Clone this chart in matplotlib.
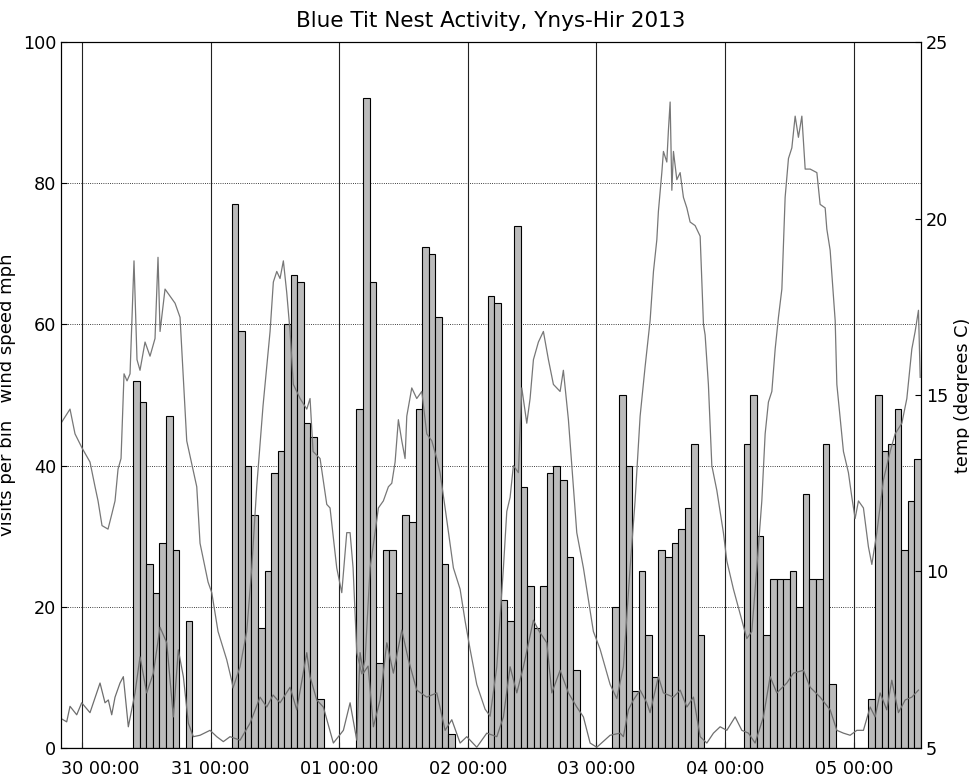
import matplotlib
matplotlib.use("Agg")
from matplotlib import pyplot as plt
import matplotlib.dates as mdates
import matplotlib.transforms as mtransforms
from datetime import datetime, timedelta

# hours relative to 30 May 2013 00:00
BASE = datetime(2013, 5, 30)
BIN_START = -3.92
BIN_HOURS = 1.225

# visits per bin (131 bins)
visits = [0] * 11 + [52, 49, 26, 22, 29, 47, 28, 0, 18] + [0] * 6 + \
    [77, 59, 40, 33, 17, 25, 39, 42, 60, 67, 66, 46, 44, 7] + [0] * 5 + \
    [48, 92, 66, 12, 28, 28, 22, 33, 32, 48, 71, 70, 61, 26, 2] + [0] * 5 + \
    [64, 63, 21, 18, 74, 37, 23, 17, 23, 39, 40, 38, 27, 11] + [0] * 5 + \
    [20, 50, 40, 8, 25, 16, 10, 28, 27, 29, 31, 34, 43, 16] + [0] * 6 + \
    [43, 50, 30, 16, 24, 24, 24, 25, 20, 36, 24, 24, 43, 9] + [0] * 5 + \
    [7, 50, 42, 43, 48, 28, 35, 41]

temp_hours = [-3.92, -2.24, -1.31, 0, 1.49, 2.43, 2.99, 3.73, 4.85, 5.6, 6.16, 6.72, 7.28,
              7.84, 8.4, 8.96, 9.7, 10.26, 10.82, 11.76, 12.69, 13.62, 14.18, 14.56, 15.49,
              16.42, 17.36, 18.29, 19.54, 21.41, 22.02, 23.52, 24.21, 25.38, 27.0, 27.94,
              28.18, 29.49, 30.74, 31.67, 32.6, 33.22, 33.78, 35.09, 35.7, 36.34, 36.95,
              37.57, 38.2, 38.82, 39.43, 40.69, 41.94, 42.55, 43.11, 44.42, 45.67, 46.28,
              47.53, 48.47, 49.4, 50.02, 50.58, 51.27, 52.2, 52.82, 53.75, 54.68, 55.3,
              56.23, 57.17, 57.8, 58.42, 59.03, 59.67, 60.28, 60.6, 61.53, 62.46, 63.4,
              64.33, 65.27, 66.2, 66.81, 67.75, 69.3, 70.55, 71.48, 72.41, 73.66, 75.21,
              76.15, 77.4, 78.63, 79.26, 79.88, 80.49, 81.43, 82.06, 82.99, 83.61, 84.23,
              85.16, 86.09, 87.03, 87.96, 89.21, 89.82, 90.76, 92.32, 93.56, 95.42, 96.67,
              98.54, 99.79, 101.02, 102.27, 103.2, 104.14, 105.07, 106.0, 106.63, 107.26,
              107.55, 108.19, 108.49, 109.12, 109.42, 109.74, 110.06, 110.36, 110.99,
              111.61, 112.22, 112.86, 113.47, 114.4, 115.34, 115.96, 116.27, 116.88,
              117.52, 118.45, 119.68, 120.32, 121.55, 122.8, 124.05, 124.98, 125.92,
              126.85, 127.47, 128.08, 128.72, 129.34, 129.95, 130.59, 131.2, 131.82,
              132.45, 133.07, 133.68, 134.32, 134.94, 135.87, 137.12, 137.73, 138.67,
              138.98, 139.6, 140.54, 140.85, 142.08, 143.01, 143.65, 144.26, 144.88,
              145.81, 146.74, 147.38, 148.31, 149.55, 150.8, 151.73, 152.98, 153.91,
              154.84, 155.46, 156.08, 156.4]
temp_c = [14.2, 14.6, 13.9, 13.5, 13.1, 12.4, 12.0, 11.3, 11.2, 11.65, 12.0, 12.9, 13.2,
          15.6, 15.4, 15.6, 18.8, 16.0, 15.7, 16.5, 16.1, 16.6, 18.9, 16.8, 18.0,
          17.8, 17.6, 17.2, 13.7, 12.4, 10.8, 9.7, 9.4, 8.3, 7.5, 6.9,
          6.7, 7.3, 8.3, 10.1, 12.4, 13.6, 14.7, 16.8, 18.2, 18.5, 18.3,
          18.8, 17.9, 16.8, 15.3, 14.9, 14.6, 14.9, 13.4, 13.2, 11.9, 11.8,
          10.1, 9.4, 11.1, 11.1, 10.1, 7.7, 7.1, 7.5, 10.1, 11.1, 11.8,
          12.0, 12.4, 12.5, 13.1, 14.3, 13.7, 13.2, 14.4, 15.2, 14.9, 15.1,
          13.9, 13.7, 13.2, 12.8, 11.8, 10.1, 9.5, 8.6, 7.8, 6.8, 6.1,
          5.9, 7.3, 10.1, 11.7, 12.1, 13.0, 12.8, 15.2, 14.2, 14.9, 16.0,
          16.5, 16.8, 16.0, 15.3, 15.1, 15.7, 14.3, 11.1, 10.1, 8.3, 7.8,
          6.8, 6.4, 7.3, 10.1, 12.0, 14.4, 15.8, 17.1, 18.5, 19.4,
          20.2, 21.3, 21.9, 21.6, 22.5, 23.3, 20.8, 21.9, 21.1,
          21.3, 20.6, 20.3, 19.9, 19.8, 19.5, 17.0, 16.7, 15.3,
          13.0, 12.3, 11.1, 10.3, 9.5, 8.8, 8.1, 8.3, 10.1,
          12.0, 13.9, 14.8, 15.1, 16.3, 17.2, 18.0, 20.6, 21.7,
          22.0, 22.9, 22.3, 22.9, 21.4, 21.4, 21.3, 20.4, 20.3,
          19.7, 19.1, 17.1, 15.3, 13.4, 12.8, 12.1, 11.5, 12.0,
          11.8, 10.7, 10.2, 11.1, 12.6, 13.4, 13.9, 14.2, 14.9,
          16.3, 16.8, 17.4, 15.5]

wind_hours = [-3.98, -2.86, -2.24, -0.99, -0.06, 1.49, 3.36, 4.29, 4.91, 5.54, 6.16, 7.09,
              7.71, 8.64, 9.89, 10.82, 12.07, 13.31, 14.56, 15.81, 17.04, 17.97, 18.91,
              19.84, 20.77, 22.02, 23.89, 25.14, 26.37, 27.62, 29.49, 31.35, 33.22, 34.47,
              35.65, 36.95, 38.82, 40.07, 41.94, 42.55, 43.8, 45.03, 46.9, 48.77, 50.02,
              51.27, 51.88, 52.5, 53.38, 54.37, 55.62, 56.87, 58.1, 59.67, 60.9, 62.46,
              64.33, 66.2, 67.75, 69.0, 70.55, 71.8, 73.66, 75.53, 77.4, 78.63, 79.88,
              81.13, 82.36, 84.23, 85.16, 86.73, 87.66, 89.21, 90.76, 92.32, 93.56, 94.81,
              96.06, 98.54, 100.41, 101.02, 101.95, 102.89, 104.14, 105.39, 106.0, 107.55,
              108.49, 110.36, 111.61, 112.86, 114.09, 115.34, 116.59, 117.82, 119.07,
              120.32, 121.87, 123.12, 124.35, 125.6, 127.15, 128.4, 129.65, 131.51,
              132.74, 134.61, 135.87, 137.73, 139.6, 140.85, 142.08, 143.33, 144.58,
              145.81, 147.06, 147.99, 148.92, 150.17, 151.1, 152.34, 153.6, 154.84, 156.08]
wind_mph = [4.2, 3.7, 5.9, 4.7, 6.4, 5.0, 9.2, 6.4, 6.8, 4.7, 7.2, 9.2,
            10.1, 3.0, 7.8, 12.9, 7.8, 10.6, 17.1, 14.9, 4.4, 13.9, 10.1,
            3.5, 1.6, 1.8, 2.5, 1.6, 0.9, 1.6, 1.1, 3.5, 7.2, 5.8,
            7.5, 6.4, 8.6, 5.4, 13.5, 10.1, 6.8, 5.8, 0.7, 2.5, 6.4,
            1.1, 13.5, 10.6, 11.6, 3.0, 6.8, 14.9, 10.6, 16.7, 12.5, 8.2,
            7.2, 7.8, 2.5, 4.0, 0.7, 1.6, 0.1, 2.1, 1.6, 4.4, 11.5,
            7.8, 11.5, 18.1, 16.7, 14.9, 7.8, 11.0, 7.8, 5.8, 4.4, 0.7,
            0.1, 1.8, 2.1, 1.6, 5.4, 6.8, 8.2, 6.4, 5.0, 10.1,
            7.8, 7.2, 8.2, 5.8, 7.2, 1.6, 0.7, 2.1, 3.0,
            2.5, 4.4, 2.5, 2.1, 0.7, 4.4, 10.1, 7.8, 9.2,
            10.6, 11.0, 8.6, 7.2, 5.4, 2.5, 2.1, 1.8, 2.5,
            2.5, 5.8, 4.4, 7.8, 5.4, 9.6, 5.0, 6.8, 7.2, 8.2]

day_ticks = [BASE + timedelta(days=d) for d in range(7)]


def to_num(hours):
    return [mdates.date2num(BASE + timedelta(hours=h)) for h in hours]


plt.rcParams['font.family'] = 'DejaVu Sans'
fig = plt.figure(figsize=(9.7, 7.78), dpi=100)
ax = fig.add_axes([0.0629, 0.0386, 0.8866, 0.9074])

edges = to_num([BIN_START + i * BIN_HOURS for i in range(len(visits))])
ax.bar(edges, visits, width=BIN_HOURS / 24.0, align='edge', color='#bbbbbb',
       edgecolor='black', linewidth=0.8, zorder=2)
ax.plot(to_num(wind_hours), wind_mph, color='#6e6e6e', linewidth=0.9, zorder=3)

for d in day_ticks:
    ax.axvline(mdates.date2num(d), color='#222222', linewidth=0.8, zorder=1)

x0 = mdates.date2num(BASE + timedelta(hours=BIN_START))
x1 = mdates.date2num(BASE + timedelta(hours=BIN_START + BIN_HOURS * len(visits)))
ax.set_xlim(x0, x1)
ax.set_ylim(0, 100)
ax.set_xticks(mdates.date2num(day_ticks))
ax.xaxis.set_major_formatter(mdates.DateFormatter('%d %H:%M'))
ax.yaxis.grid(True, linestyle=':', color='black', linewidth=0.6)
ax.set_axisbelow(True)
ax.tick_params(direction='in', labelsize=12.7, length=4)
ax.tick_params(axis='x', pad=8.5)
ax.set_ylabel('visits per bin   wind speed mph', fontsize=13)
ax.yaxis.set_label_coords(-0.052, 0.5)
ax.set_title('Blue Tit Nest Activity, Ynys-Hir 2013', fontsize=15.5, pad=11)

# first date label sits to the right of its tick in the original
fig.canvas.draw()
first = ax.get_xticklabels()[0]
first.set_transform(first.get_transform() +
                    mtransforms.ScaledTranslation(18 / 100.0, 0, fig.dpi_scale_trans))

ax2 = ax.twinx()
ax2.plot(to_num(temp_hours), temp_c, color='#777777', linewidth=0.9)
ax2.set_ylim(5, 25)
ax2.set_yticks([5, 10, 15, 20, 25])
ax2.tick_params(direction='in', labelsize=12.7, length=4)
ax2.set_ylabel('temp (degrees C)', fontsize=12.7)
ax2.set_xlim(x0, x1)

fig.savefig('out.png', dpi=100)
